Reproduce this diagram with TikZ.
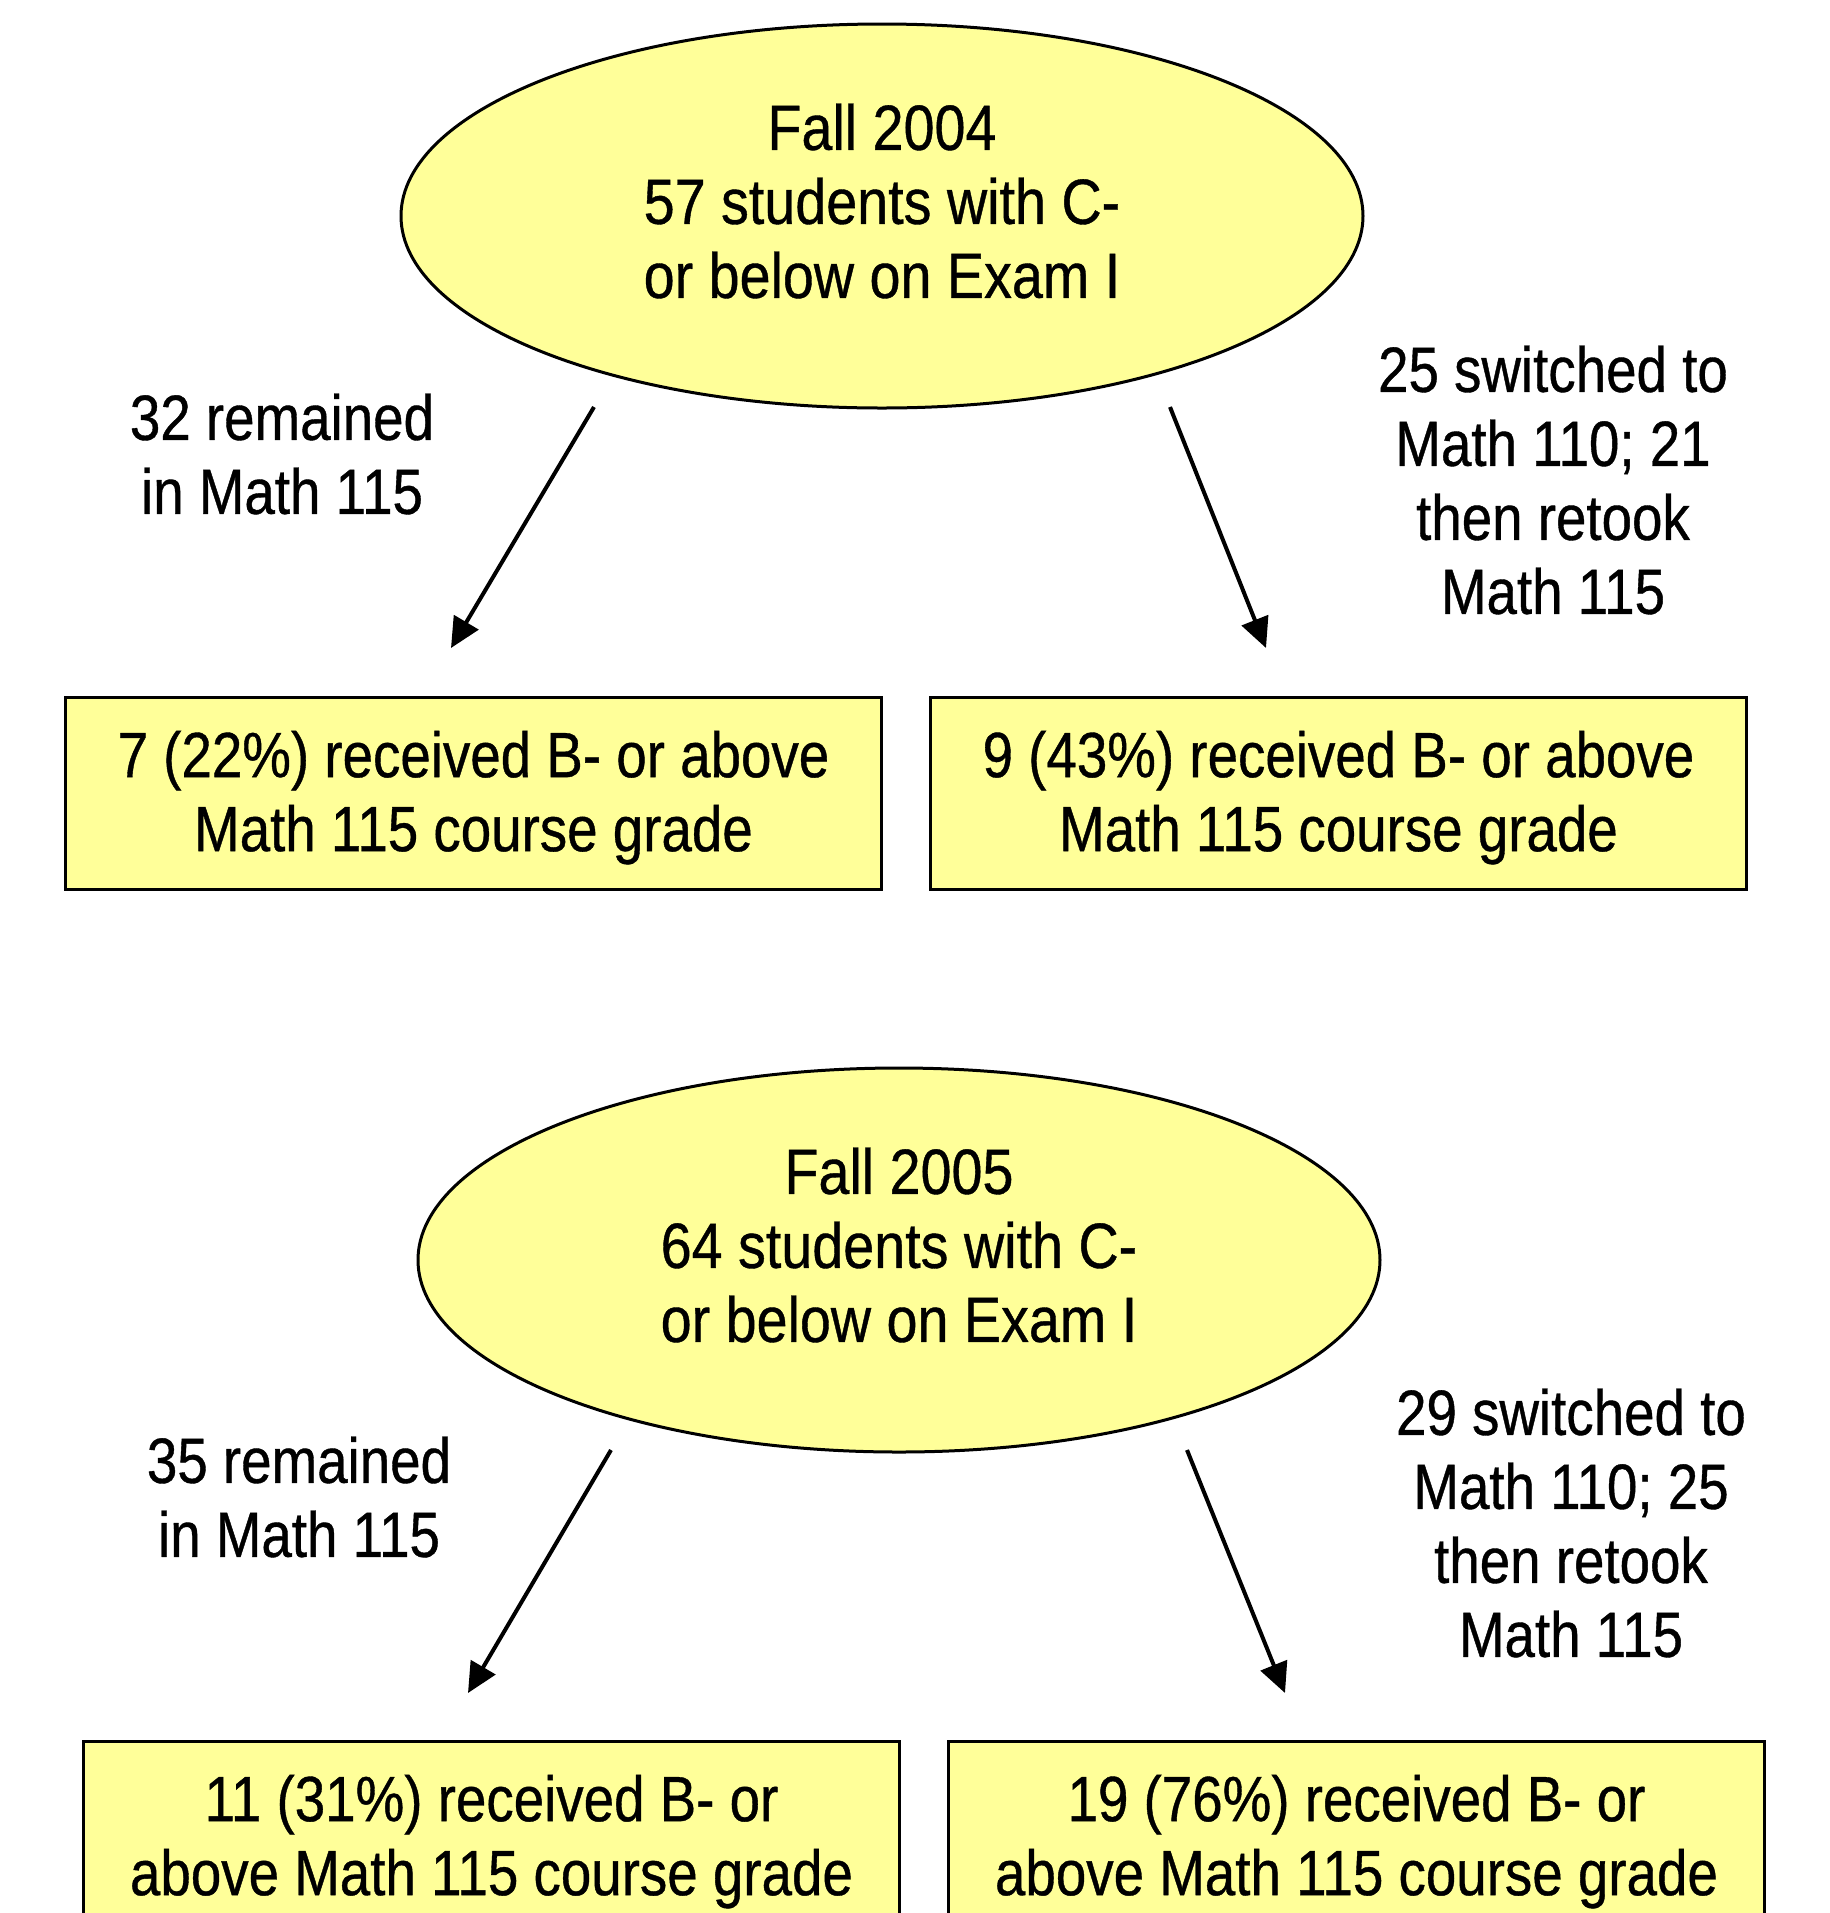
\documentclass[tikz,border=0pt]{standalone}
\usepackage{fontspec}
\setmainfont[FakeStretch=0.855,FakeBold=0.6]{Liberation Sans}
\newfontfamily\ovalfont[FakeStretch=0.87,FakeBold=0.6]{Liberation Sans}
\usetikzlibrary{shapes.geometric,arrows.meta}
\definecolor{paleyellow}{HTML}{FFFF99}
\tikzset{
  every node/.style={font=\fontsize{32}{37}\selectfont, align=center, inner sep=0pt},
  oval/.style={ellipse, draw=black, line width=1.5pt, fill=paleyellow, minimum width=481pt, minimum height=192pt},
  ovaltext/.style={font=\ovalfont\fontsize{32}{37}\selectfont},
  resultbox/.style={rectangle, draw=black, line width=1.5pt, fill=paleyellow, minimum width=408pt, minimum height=96pt},
  flow/.style={line width=2pt, -{Triangle[length=15pt,width=14pt]}},
  lbl/.style={}
}
\begin{document}
\begin{tikzpicture}[x=0.5pt,y=-0.5pt]
\useasboundingbox (0,0) rectangle (1830,1913);
% Fall 2004
\node[oval] (e1) at (882,216) {};
\node[ovaltext] (e1t) at ([yshift=7.5pt]e1.center) {Fall 2004\\57 students with C-\\or below on Exam I};
\node[resultbox] (b1) at (473.5,793) {};
\node (b1t) at ([yshift=-2.3pt]b1.center) {7 (22\%) received B- or above\\Math 115 course grade};
\node[resultbox] (b2) at (1338.5,793) {};
\node (b2t) at ([yshift=-2.3pt]b2.center) {9 (43\%) received B- or above\\Math 115 course grade};
\node[lbl] (l1) at (282,454) {32 remained\\in Math 115};
\node[lbl] (r1) at (1553,480) {25 switched to\\Math 110; 21\\then retook\\Math 115};
\coordinate (s1) at (594,407);
\coordinate (t1) at (451,648);
\coordinate (s2) at (1170,407);
\coordinate (t2) at (1266,648);
\draw[flow] (s1) -- (t1);
\draw[flow] (s2) -- (t2);
% Fall 2005
\node[oval] (e2) at (899,1260) {};
\node[ovaltext] (e2t) at ([yshift=7.5pt]e2.center) {Fall 2005\\64 students with C-\\or below on Exam I};
\node[resultbox] (b3) at (491.5,1837) {};
\node (b3t) at ([yshift=-2.3pt]b3.center) {11 (31\%) received B- or\\above Math 115 course grade};
\node[resultbox] (b4) at (1356.5,1837) {};
\node (b4t) at ([yshift=-2.3pt]b4.center) {19 (76\%) received B- or\\above Math 115 course grade};
\node[lbl] (l2) at (299,1497) {35 remained\\in Math 115};
\node[lbl] (r2) at (1571,1523) {29 switched to\\Math 110; 25\\then retook\\Math 115};
\coordinate (s3) at (611,1450);
\coordinate (t3) at (468,1693);
\coordinate (s4) at (1187,1450);
\coordinate (t4) at (1285,1693);
\draw[flow] (s3) -- (t3);
\draw[flow] (s4) -- (t4);
\end{tikzpicture}
\end{document}
